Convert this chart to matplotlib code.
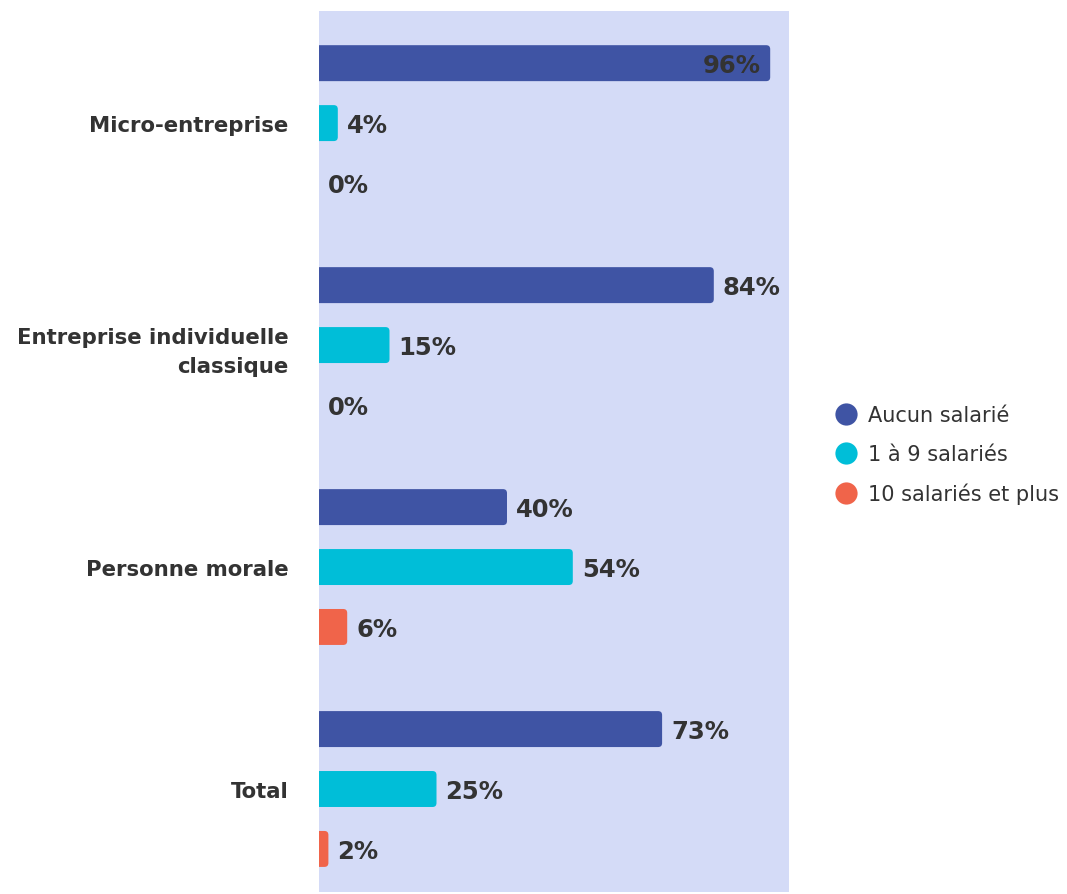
import matplotlib
matplotlib.use("Agg")
import matplotlib.pyplot as plt
from matplotlib.patches import FancyBboxPatch
from matplotlib.lines import Line2D
import numpy as np

categories = ["Micro-entreprise", "Entreprise individuelle\nclassique", "Personne morale", "Total"]
series_names = ["Aucun salarié", "1 à 9 salariés", "10 salariés et plus"]
aucun = [96, 84, 40, 73]
un_a_neuf = [4, 15, 54, 25]
dix_plus = [0, 0, 6, 2]
series_values = [aucun, un_a_neuf, dix_plus]
colors = ["#3f54a4", "#00bed8", "#f0644a"]
bg = "#d4dbf7"
text_color = "#333333"

W, H, DPI = 1067, 895, 100
fig = plt.figure(figsize=(W / DPI, H / DPI), dpi=DPI)
ax = fig.add_axes([319 / W, 2 / H, 470 / W, 881 / H])
ax.set_facecolor(bg)

xmax = 100
ylim = (3.464, -0.505)
ax.set_xlim(0, xmax)
ax.set_ylim(*ylim)

offsets = [-0.27, 0.0, 0.27]
bar_h = 0.162

# pixel -> data unit conversions for rounded corners
ax_w_px = 470
ax_h_px = 881
x_per_px = xmax / ax_w_px
y_per_px = (ylim[0] - ylim[1]) / ax_h_px
r = 4 * x_per_px
aspect = y_per_px / x_per_px

y_base = np.arange(len(categories))
for s, (vals, col) in enumerate(zip(series_values, colors)):
    for i, v in enumerate(vals):
        yc = y_base[i] + offsets[s]
        if v > 0:
            p = FancyBboxPatch((-2 * r, yc - bar_h / 2), v + 2 * r, bar_h,
                               boxstyle=f"round,pad=0,rounding_size={r}",
                               mutation_aspect=aspect,
                               facecolor=col, edgecolor="none", clip_on=True)
            ax.add_patch(p)
        label = f"{v}%"
        if v >= 90:
            ax.annotate(label, (v, yc), xytext=(-9, -2), textcoords="offset pixels",
                        ha="right", va="center", fontsize=17.5, fontweight="bold",
                        color=text_color)
        else:
            ax.annotate(label, (v, yc), xytext=(9, -2), textcoords="offset pixels",
                        ha="left", va="center", fontsize=17.5, fontweight="bold",
                        color=text_color)

ax.set_yticks(y_base)
ax.set_yticklabels(categories, fontsize=15.3, fontweight="bold", color=text_color,
                   linespacing=1.55)
ax.tick_params(axis="y", length=0, pad=22)
ax.set_xticks([])
for sp in ax.spines.values():
    sp.set_visible(False)

handles = [Line2D([], [], marker="o", linestyle="none", markersize=16,
                  markerfacecolor=c, markeredgecolor="none") for c in colors]
leg = fig.legend(handles, series_names, loc="center left",
                 bbox_to_anchor=(826 / W, 1 - 456 / H), frameon=False,
                 fontsize=15, handlelength=0.9, handletextpad=0.6,
                 labelspacing=0.9, borderpad=0)
for t in leg.get_texts():
    t.set_color(text_color)

fig.savefig("out.png", dpi=DPI, facecolor="white")
